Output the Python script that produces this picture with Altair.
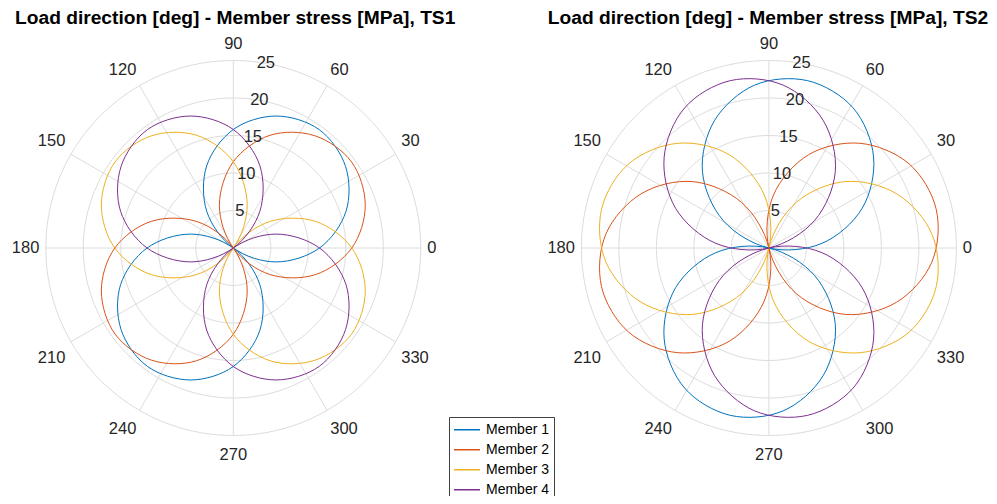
import altair as alt
import numpy as np
import pandas as pd

# ---------------- data ----------------
members = ["Member 1", "Member 2", "Member 3", "Member 4"]
colors = ["#0072BD", "#D95319", "#EDB120", "#7E2F8E"]
panel_titles = ["Load direction [deg] - Member stress [MPa], TS1",
                "Load direction [deg] - Member stress [MPa], TS2"]

# TS1 : load direction [deg] / member stress [MPa]
ts1_m1_dir = [144, 162, 180, 198, 216, 234, 252, 270, 288, 306, 324, 342, 0, 18, 36, 54, 72, 90, 108, 126, 144]
ts1_m2_dir = [126, 144, 162, 180, 198, 216, 234, 252, 270, 288, 306, 324, 342, 0, 18, 36, 54, 72, 90, 108, 126]
ts1_m3_dir = [54, 72, 90, 108, 126, 144, 162, 180, 198, 216, 234, 252, 270, 288, 306, 324, 342, 0, 18, 36, 54]
ts1_m4_dir = [36, 54, 72, 90, 108, 126, 144, 162, 180, 198, 216, 234, 252, 270, 288, 306, 324, 342, 0, 18, 36]
ts1_m1_val = [0, 6.0, 11.5, 15.8, 18.5, 19.5, 18.5, 15.8, 11.5, 6.0, 0, 6.0, 11.5, 15.8, 18.5, 19.5, 18.5, 15.8, 11.5, 6.0, 0]
ts1_m2_val = [0, 6.0, 11.5, 15.8, 18.5, 19.5, 18.5, 15.8, 11.5, 6.0, 0, 6.0, 11.5, 15.8, 18.5, 19.5, 18.5, 15.8, 11.5, 6.0, 0]
ts1_m3_val = [0, 6.0, 11.5, 15.8, 18.5, 19.5, 18.5, 15.8, 11.5, 6.0, 0, 6.0, 11.5, 15.8, 18.5, 19.5, 18.5, 15.8, 11.5, 6.0, 0]
ts1_m4_val = [0, 6.0, 11.5, 15.8, 18.5, 19.5, 18.5, 15.8, 11.5, 6.0, 0, 6.0, 11.5, 15.8, 18.5, 19.5, 18.5, 15.8, 11.5, 6.0, 0]

# TS2 : load direction [deg] / member stress [MPa]
ts2_m1_dir = [167, 185, 203, 221, 239, 257, 275, 293, 311, 329, 347, 5, 23, 41, 59, 77, 95, 113, 131, 149, 167]
ts2_m2_dir = [103, 121, 139, 157, 175, 193, 211, 229, 247, 265, 283, 301, 319, 337, 355, 13, 31, 49, 67, 85, 103]
ts2_m3_dir = [77, 95, 113, 131, 149, 167, 185, 203, 221, 239, 257, 275, 293, 311, 329, 347, 5, 23, 41, 59, 77]
ts2_m4_dir = [13, 31, 49, 67, 85, 103, 121, 139, 157, 175, 193, 211, 229, 247, 265, 283, 301, 319, 337, 355, 13]
ts2_m1_val = [0, 7.1, 13.5, 18.5, 21.8, 22.9, 21.8, 18.5, 13.5, 7.1, 0, 7.1, 13.5, 18.5, 21.8, 22.9, 21.8, 18.5, 13.5, 7.1, 0]
ts2_m2_val = [0, 7.1, 13.5, 18.5, 21.8, 22.9, 21.8, 18.5, 13.5, 7.1, 0, 7.1, 13.5, 18.5, 21.8, 22.9, 21.8, 18.5, 13.5, 7.1, 0]
ts2_m3_val = [0, 7.1, 13.5, 18.5, 21.8, 22.9, 21.8, 18.5, 13.5, 7.1, 0, 7.1, 13.5, 18.5, 21.8, 22.9, 21.8, 18.5, 13.5, 7.1, 0]
ts2_m4_val = [0, 7.1, 13.5, 18.5, 21.8, 22.9, 21.8, 18.5, 13.5, 7.1, 0, 7.1, 13.5, 18.5, 21.8, 22.9, 21.8, 18.5, 13.5, 7.1, 0]

theta_ticks = [0, 30, 60, 90, 120, 150, 180, 210, 240, 270, 300, 330]
r_ticks = [5, 10, 15, 20, 25]
r_max = 25
r_label_angle = 80

# ---------------- layout (not data) ----------------
PX = 7.5                      # px per MPa
W, H = 981, 488
X_MIN, Y_MAX = -30.04, 32.0
X_MAX = X_MIN + W / PX
Y_MIN = Y_MAX - H / PX
centers = [0.0, 71.41]        # panel centres along x (MPa units)
title_dx = [0.25, -0.12]      # small horizontal nudge of the titles (MPa units)
FONT = "Liberation Sans"
TXT = "#262626"
GRID = "#dcdcdc"
FS_TICK = 16.5

series = {
    0: [(ts1_m1_dir, ts1_m1_val), (ts1_m2_dir, ts1_m2_val), (ts1_m3_dir, ts1_m3_val), (ts1_m4_dir, ts1_m4_val)],
    1: [(ts2_m1_dir, ts2_m1_val), (ts2_m2_dir, ts2_m2_val), (ts2_m3_dir, ts2_m3_val), (ts2_m4_dir, ts2_m4_val)],
}

# each lobe runs from one zero-stress direction to the next; drawn as a closed loop
rows = []
for p, lst in series.items():
    for mi, (dirs, vals) in enumerate(lst):
        zeros = [i for i, v in enumerate(vals) if v == 0]
        for seg, (a, b) in enumerate(zip(zeros[:-1], zeros[1:])):
            for i in range(a, b):
                rows.append(dict(panel=p, member=members[mi], mi=mi,
                                 key=f"{p}-{mi}-{seg}", idx=i,
                                 dir=dirs[i], stress=vals[i]))
curves = pd.DataFrame(rows)
curves["cx"] = curves["panel"].map(lambda p: centers[p])

xs = alt.Scale(domain=[X_MIN, X_MAX], nice=False, zero=False)
ys = alt.Scale(domain=[Y_MIN, Y_MAX], nice=False, zero=False)

# grid rings
ring_rows = []
t = np.arange(0, 361, 2)
for p, cx in enumerate(centers):
    for r in r_ticks:
        for i, a in enumerate(t):
            ring_rows.append(dict(key=f"{p}-{r}", idx=i,
                                  x=cx + r * np.cos(np.radians(a)),
                                  y=r * np.sin(np.radians(a))))
rings = pd.DataFrame(ring_rows)

spoke_rows = []
for p, cx in enumerate(centers):
    for a in theta_ticks:
        spoke_rows.append(dict(x=cx, y=0.0,
                               x2=cx + r_max * np.cos(np.radians(a)),
                               y2=r_max * np.sin(np.radians(a))))
spokes = pd.DataFrame(spoke_rows)

# theta labels: nearest corner of the text box sits just outside the outer ring
lab_rows = []
R_LAB = r_max + 6.4 / PX
HH_UP, HH_DN = 10.3 / PX, 13.4 / PX
for p, cx in enumerate(centers):
    for a in theta_ticks:
        c, s = np.cos(np.radians(a)), np.sin(np.radians(a))
        txt = str(a)
        hw = len(txt) * 0.556 * FS_TICK / 2 / PX
        sx = 0 if abs(c) < 1e-6 else np.sign(c)
        dy = 0 if abs(s) < 1e-6 else (HH_UP if s > 0 else -HH_DN)
        lab_rows.append(dict(text=txt, x=cx + R_LAB * c + sx * hw, y=R_LAB * s + dy))
    for r in r_ticks:
        lab_rows.append(dict(text=str(r),
                             x=cx + r * np.cos(np.radians(r_label_angle)),
                             y=r * np.sin(np.radians(r_label_angle))))
labels = pd.DataFrame(lab_rows)

titles = pd.DataFrame(dict(text=panel_titles,
                           x=[c + d for c, d in zip(centers, title_dx)],
                           y=[Y_MAX - 9.5 / PX] * 2))

X = lambda f: alt.X(f, scale=xs, axis=None)
Y = lambda f: alt.Y(f, scale=ys, axis=None)

ring_layer = alt.Chart(rings).mark_line(stroke=GRID, strokeWidth=1).encode(
    x=X("x:Q"), y=Y("y:Q"), detail="key:N", order="idx:Q")

spoke_layer = alt.Chart(spokes).mark_rule(stroke=GRID, strokeWidth=1).encode(
    x=X("x:Q"), y=Y("y:Q"), x2="x2:Q", y2="y2:Q")

curve_layer = alt.Chart(curves).transform_calculate(
    px="datum.cx + datum.stress * cos(datum.dir * PI / 180)",
    py="datum.stress * sin(datum.dir * PI / 180)",
).mark_line(interpolate="cardinal-closed", strokeWidth=1).encode(
    x=X("px:Q"), y=Y("py:Q"),
    color=alt.Color("member:N", scale=alt.Scale(domain=members, range=colors),
                    legend=alt.Legend(title=None, orient="none", legendX=441, legendY=409,
                                      symbolType="stroke", symbolSize=676, symbolStrokeWidth=1.3,
                                      labelFont=FONT, labelFontSize=14, labelColor="black",
                                      strokeColor="#404040", fillColor="white",
                                      padding=4, rowPadding=2, clipHeight=17.5,
                                      labelOffset=5, cornerRadius=0)),
    detail="key:N", order="idx:Q")

label_layer = alt.Chart(labels).mark_text(font=FONT, fontSize=FS_TICK, color=TXT,
                                          align="center", baseline="middle").encode(
    x=X("x:Q"), y=Y("y:Q"), text="text:N")

title_layer = alt.Chart(titles).mark_text(font=FONT, fontSize=19.2, fontWeight="bold",
                                          color="black", align="center",
                                          baseline="middle").encode(
    x=X("x:Q"), y=Y("y:Q"), text="text:N")

chart = alt.layer(ring_layer, spoke_layer, curve_layer, label_layer, title_layer).properties(
    width=W, height=H, padding=0,
    autosize=alt.AutoSizeParams(type="none"),
).configure_view(stroke=None)

chart.save("out.html", embed_options={"renderer": "svg", "actions": False})
